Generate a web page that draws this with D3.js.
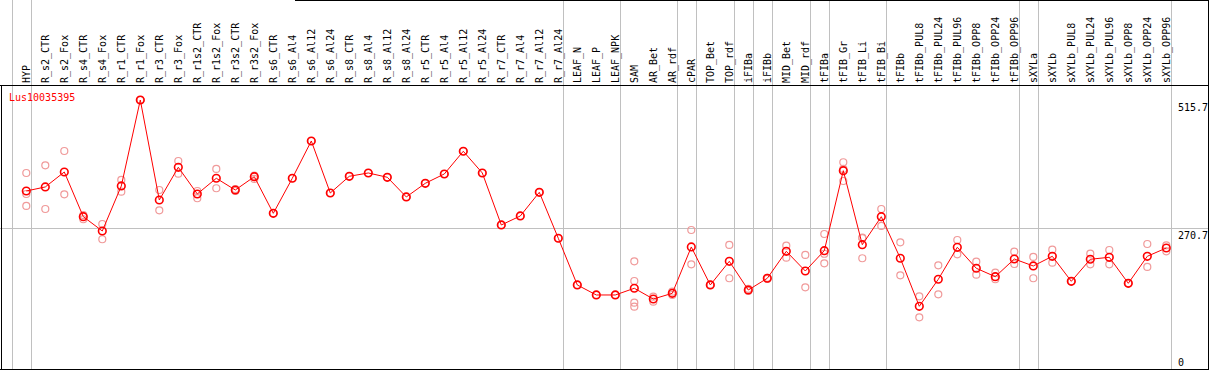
<!DOCTYPE html>
<html>
<head>
<meta charset="utf-8">
<script src="https://cdn.jsdelivr.net/npm/d3@7"></script>
<style>
  html, body { margin: 0; padding: 0; background: #fff; }
  svg { display: block; }
  text { font-family: "DejaVu Sans Mono", monospace; }
</style>
</head>
<body>
<svg id="chart" width="1209" height="370"></svg>
<script>
const geneName = "Lus10035395";
const categories = ["HYP","R_s2_CTR","R_s2_Fox","R_s4_CTR","R_s4_Fox","R_r1_CTR","R_r1_Fox","R_r3_CTR","R_r3_Fox","R_r1s2_CTR","R_r1s2_Fox","R_r3s2_CTR","R_r3s2_Fox","R_s6_CTR","R_s6_Al4","R_s6_Al12","R_s6_Al24","R_s8_CTR","R_s8_Al4","R_s8_Al12","R_s8_Al24","R_r5_CTR","R_r5_Al4","R_r5_Al12","R_r5_Al24","R_r7_CTR","R_r7_Al4","R_r7_Al12","R_r7_Al24","LEAF_N","LEAF_P","LEAF_NPK","SAM","AR_Bet","AR_rdf","cPAR","TOP_Bet","TOP_rdf","iFIBa","iFIBb","MID_Bet","MID_rdf","tFIBa","tFIB_Gr","tFIB_Li","tFIB_Bi","tFIBb","tFIBb_PUL8","tFIBb_PUL24","tFIBb_PUL96","tFIBb_OPP8","tFIBb_OPP24","tFIBb_OPP96","sXYLa","sXYLb","sXYLb_PUL8","sXYLb_PUL24","sXYLb_PUL96","sXYLb_OPP8","sXYLb_OPP24","sXYLb_OPP96"];

const meanValues = [341.9,349.6,378.2,292.8,265.5,351.5,515.7,324.7,387.2,336.2,366.2,343.8,369.2,299.3,366.2,437.4,338.1,370.0,376.3,368.1,330.5,356.6,374.4,417.8,376.3,277.0,294.2,339.4,251.6,162.4,143.3,143.3,156.1,135.6,146.5,235.0,162.4,207.6,152.8,175.2,226.7,189.1,227.9,380.7,239.4,292.8,213.4,121.7,173.3,234.4,194.3,178.2,212.0,198.7,217.2,169.4,211.5,215.3,165.6,217.2,233.0];

const replicateValues = [
  [376.3,336.2,313.3],[391.0,307.5],[418.3,335.6],[296.0,287.9],[278.9,249.7],
  [363.0,340.6],[515.7,515.7],[343.8,305.0],[399.2,375.0],[341.9,328.0],
  [384.0,347.1],[345.7,341.9],[371.2,364.9],[299.3],[366.2],
  [437.4],[338.1],[370.0],[376.3],[368.1],
  [330.5],[356.6],[374.4],[417.8],[376.3],
  [277.0],[294.2],[339.4],[251.6],[162.4],
  [143.3],[143.3],[207.6,170.0,128.6,120.9],[140.0,130.5],[149.6,143.3],
  [267.4,201.9],[163.0,162.0],[238.8,175.2],[155.0,151.0],[176.0,174.0],
  [237.4,214.5],[219.7,158.0],[259.8,222.0,203.8],[396.8,361.0,384.0],[252.7,213.4,252.0],
  [307.5,275.1],[243.9,180.9],[140.8,100.7],[200.0,144.6],[248.3,221.0],
  [206.9,182.0],[185.9,173.3],[226.0,202.5],[215.9,175.2],[229.8,205.0],
  [169.4,169.4],[222.2,201.9],[229.2,201.9],[165.6,165.6],[240.7,196.8],
  [238.2,226.7]
];

// last category of each group (vertical separators drawn after these)
const groupEnds = ["HYP","R_r7_Al24","LEAF_NPK","AR_rdf","cPAR","TOP_rdf","iFIBa","iFIBb","MID_rdf","tFIBa","tFIB_Bi","tFIBb_OPP96","sXYLa","sXYLb_OPP96"];
const yTickLabels = ["515.7","270.7","0"];
const yTickValues = [515.7, 270.7, 0];

const W = 1209, H = 370;
const svg = d3.select("#chart");
const plotTop = 85, plotBottom = 369, rightEdge = 1208.5;

const x = d3.scaleLinear().domain([0, categories.length - 1]).range([26.3, 1166.3]);
const y = d3.scaleLinear().domain([0, 515.7]).range([370, 100]);
const sepOffset = 4.2;

// vertical separators
const sepXs = [x(-1) + sepOffset].concat(groupEnds.map(c => x(categories.indexOf(c)) + sepOffset));
svg.selectAll("line.sep").data(sepXs).enter().append("line")
  .attr("x1", d => Math.round(d) + 0.5).attr("x2", d => Math.round(d) + 0.5)
  .attr("y1", 0).attr("y2", H)
  .attr("stroke", "#c0c0c0").attr("stroke-width", 1);

// horizontal gridline at middle tick
svg.append("line")
  .attr("x1", 0).attr("x2", rightEdge)
  .attr("y1", Math.round(y(270.7)) + 0.5).attr("y2", Math.round(y(270.7)) + 0.5)
  .attr("stroke", "#c0c0c0").attr("stroke-width", 1);

// frame
svg.append("line").attr("x1", 1.5).attr("x2", 1.5).attr("y1", plotTop).attr("y2", H).attr("stroke", "#000");
svg.append("line").attr("x1", rightEdge).attr("x2", rightEdge).attr("y1", 0).attr("y2", H).attr("stroke", "#000");
svg.append("line").attr("x1", 0).attr("x2", rightEdge).attr("y1", plotTop + 0.5).attr("y2", plotTop + 0.5).attr("stroke", "#000");
svg.append("line").attr("x1", 0).attr("x2", rightEdge).attr("y1", plotBottom + 0.5).attr("y2", plotBottom + 0.5).attr("stroke", "#000");
svg.append("line").attr("x1", 295).attr("x2", rightEdge).attr("y1", 0.5).attr("y2", 0.5).attr("stroke", "#000");

// category labels (rotated)
svg.selectAll("text.cat").data(categories).enter().append("text")
  .attr("transform", (d, i) => `translate(${x(i) + 3.3},83) rotate(-90)`)
  .attr("font-size", 10).attr("fill", "#000")
  .text(d => d);

// y tick labels
svg.selectAll("text.ytick").data(yTickValues).enter().append("text")
  .attr("x", 1178)
  .attr("y", (d, i) => i === 2 ? 366 : y(d) + 11)
  .attr("font-size", 10).attr("fill", "#000")
  .text((d, i) => yTickLabels[i]);

// gene name
svg.append("text").attr("x", 9).attr("y", 101)
  .attr("font-size", 10).attr("fill", "#ff0000").text(geneName);

// replicates
const reps = [];
replicateValues.forEach((arr, i) => arr.forEach(v => reps.push({i, v})));
svg.selectAll("circle.rep").data(reps).enter().append("circle")
  .attr("cx", d => x(d.i)).attr("cy", d => y(d.v)).attr("r", 3.5)
  .attr("fill", "none").attr("stroke", "#f09a9a").attr("stroke-width", 1.2);

// mean line
const line = d3.line().x((d, i) => x(i)).y(d => y(d));
svg.append("path").datum(meanValues).attr("d", line)
  .attr("fill", "none").attr("stroke", "#ff0000").attr("stroke-width", 1);

// mean markers
svg.selectAll("circle.mean").data(meanValues).enter().append("circle")
  .attr("cx", (d, i) => x(i)).attr("cy", d => y(d)).attr("r", 3.8)
  .attr("fill", "none").attr("stroke", "#ff0000").attr("stroke-width", 1.6);
</script>
</body>
</html>
